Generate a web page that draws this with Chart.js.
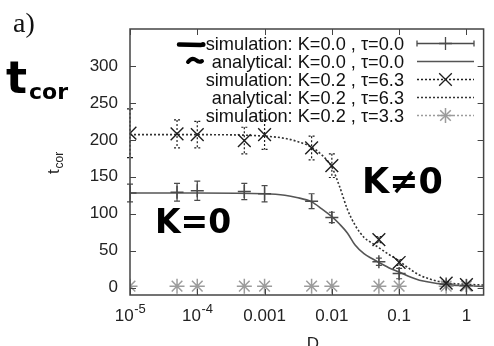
<!DOCTYPE html>
<html>
<head>
<meta charset="utf-8">
<script src="https://cdn.jsdelivr.net/npm/chart.js@4/dist/chart.umd.min.js"></script>
<style>
html,body{margin:0;padding:0;background:#fff;}
#wrap{position:relative;width:494px;height:346px;}
</style>
</head>
<body>
<div id="wrap"><canvas id="c" width="494" height="346"></canvas></div>
<script>
// ---- data ----
const simD = [1e-5, 5e-5, 1e-4, 5e-4, 1e-3, 5e-3, 1e-2, 5e-2, 0.1, 0.5, 1];
const simK0 = [128, 129, 131, 130, 127, 117, 95, 35, 19, 5, 3];
const simK0Err = [12, 12, 13, 11, 11, 10, 7, 5, 7, 2, 2];
const simK02 = [209, 208, 207, 199, 207, 189, 165, 65, 34, 6, 4];
const simK02Err = [33, 19, 18, 18, 20, 16, 16, 4, 4, 2, 2];
const simK02b = [2, 2, 2, 2, 2, 2, 2, 2, 2, 2, 2];

const curveD = [1e-5, 1e-4, 1e-3, 2e-3, 3e-3, 5e-3, 7e-3, 1e-2, 1.3e-2, 1.7e-2, 2.2e-2, 3e-2, 4e-2, 5e-2, 7e-2, 0.1, 0.15, 0.2, 0.3, 0.5, 1, 1.8];
const anaK0 = [128, 128, 127, 125, 122, 116, 107, 96, 86, 74, 58, 46, 39, 34, 27, 21, 14, 10, 7, 4, 2.5, 1.5];
const anaK02 = [207, 207, 205, 202, 198, 190, 180, 163, 137, 106, 85, 68, 60, 54, 45, 36, 24, 17, 11, 6.5, 4.5, 3.5];

const xTickValues = [1e-5, 1e-4, 1e-3, 1e-2, 0.1, 1];
const xTickLabels = ['10^-5', '10^-4', '0.001', '0.01', '0.1', '1'];
const yTickValues = [0, 50, 100, 150, 200, 250, 300];
const seriesLabels = [
  'simulation: K=0.0 , \u03C4=0.0',
  'analytical: K=0.0 , \u03C4=0.0',
  'simulation: K=0.2 , \u03C4=6.3',
  'analytical: K=0.2 , \u03C4=6.3',
  'simulation: K=0.2 , \u03C4=3.3'
];

const pts = (xs, ys) => xs.map((x, i) => ({x: x, y: ys[i]}));
const FONT = '"Liberation Sans", Arial, "DejaVu Sans", sans-serif';

const C_K0 = '#4a4a4a', C_K0L = '#555555', C_X = '#1e1e1e', C_DOT = '#333333', C_STAR = '#9c9c9c';

const datasets = [
  {label: seriesLabels[0], data: pts(simD, simK0), errors: simK0Err, errDash: [],
   showLine: false, pointStyle: 'cross', pointRadius: 6.5, borderColor: C_K0, backgroundColor: C_K0, pointBorderWidth: 1.5, order: 2},
  {label: seriesLabels[1], data: pts(curveD, anaK0), showLine: true, pointRadius: 0,
   borderColor: C_K0L, borderWidth: 1.6, cubicInterpolationMode: 'monotone', order: 4},
  {label: seriesLabels[2], data: pts(simD, simK02), errors: simK02Err, errDash: [2, 2],
   showLine: false, pointStyle: 'crossRot', pointRadius: 9, borderColor: C_X, backgroundColor: C_X, pointBorderWidth: 1.4, order: 1},
  {label: seriesLabels[3], data: pts(curveD, anaK02), showLine: true, pointRadius: 0,
   borderColor: C_DOT, borderWidth: 1.6, borderDash: [2, 2], cubicInterpolationMode: 'monotone', order: 5},
  {label: seriesLabels[4], data: pts(simD, simK02b), showLine: false, pointStyle: 'star', pointRadius: 7.5,
   borderColor: C_STAR, backgroundColor: C_STAR, pointBorderWidth: 1.5, order: 3}
];

function drawCross(ctx, x, y, r) { ctx.beginPath(); ctx.moveTo(x - r, y); ctx.lineTo(x + r, y); ctx.moveTo(x, y - r); ctx.lineTo(x, y + r); ctx.stroke(); }
function drawX(ctx, x, y, r) { ctx.beginPath(); ctx.moveTo(x - r, y - r); ctx.lineTo(x + r, y + r); ctx.moveTo(x - r, y + r); ctx.lineTo(x + r, y - r); ctx.stroke(); }

const decor = {
  id: 'decor',
  beforeDatasetsDraw(chart) {
    const ctx = chart.ctx, xs = chart.scales.x, ys = chart.scales.y;
    ctx.save();
    chart.data.datasets.forEach(ds => {
      if (!ds.errors) return;
      ctx.strokeStyle = ds.borderColor; ctx.lineWidth = 1.2;
      ctx.setLineDash(ds.errDash);
      ds.data.forEach((p, i) => {
        const e = ds.errors[i];
        const px = xs.getPixelForValue(p.x);
        const y1 = ys.getPixelForValue(p.y + e), y2 = ys.getPixelForValue(p.y - e);
        ctx.beginPath(); ctx.moveTo(px, y1); ctx.lineTo(px, y2);
        ctx.moveTo(px - 3, y1); ctx.lineTo(px + 3, y1);
        ctx.moveTo(px - 3, y2); ctx.lineTo(px + 3, y2);
        ctx.stroke();
      });
    });
    ctx.restore();
  },
  afterDraw(chart) {
    const ctx = chart.ctx, a = chart.chartArea, xs = chart.scales.x, ys = chart.scales.y;
    ctx.save();
    // frame
    ctx.strokeStyle = '#444'; ctx.lineWidth = 1.5; ctx.setLineDash([]);
    ctx.strokeRect(a.left, a.top, a.right - a.left, a.bottom - a.top);
    ctx.lineWidth = 1;
    ctx.beginPath();
    yTickValues.forEach(v => { const py = Math.round(ys.getPixelForValue(v)) + 0.5;
      ctx.moveTo(a.left, py); ctx.lineTo(a.left + 6, py); ctx.moveTo(a.right, py); ctx.lineTo(a.right - 6, py); });
    xTickValues.forEach(v => { const px = Math.round(xs.getPixelForValue(v)) + 0.5;
      ctx.moveTo(px, a.bottom); ctx.lineTo(px, a.bottom - 6); ctx.moveTo(px, a.top); ctx.lineTo(px, a.top + 6); });
    ctx.stroke();

    // x tick labels (with real superscripts)
    ctx.fillStyle = '#222'; ctx.textBaseline = 'alphabetic'; ctx.textAlign = 'left';
    xTickValues.forEach((v, i) => {
      const px = xs.getPixelForValue(v);
      const parts = xTickLabels[i].split('^');
      ctx.font = '17px ' + FONT;
      const w1 = ctx.measureText(parts[0]).width;
      let w2 = 0;
      if (parts[1]) { ctx.font = '13px ' + FONT; w2 = ctx.measureText(parts[1]).width; }
      const x0 = px - (w1 + w2) / 2;
      ctx.font = '17px ' + FONT; ctx.fillText(parts[0], x0, 320.5);
      if (parts[1]) { ctx.font = '13px ' + FONT; ctx.fillText(parts[1], x0 + w1 + 0.5, 312.5); }
    });

    // legend
    const rows = [43.5, 61.5, 79.5, 97.5, 115.5];
    const tx = 404, l1 = 417, l2 = 474, mid = 445.5;
    ctx.font = '18.2px ' + FONT; ctx.fillStyle = '#111'; ctx.textAlign = 'right'; ctx.textBaseline = 'middle';
    rows.forEach((ry, i) => ctx.fillText(seriesLabels[i], tx, ry + 1));
    // row 1
    ctx.strokeStyle = C_K0; ctx.lineWidth = 1.3;
    ctx.beginPath(); ctx.moveTo(l1, rows[0]); ctx.lineTo(l2, rows[0]);
    ctx.moveTo(l1, rows[0] - 3); ctx.lineTo(l1, rows[0] + 3); ctx.moveTo(l2, rows[0] - 3); ctx.lineTo(l2, rows[0] + 3); ctx.stroke();
    drawCross(ctx, mid, rows[0], 6.5);
    // row 2
    ctx.strokeStyle = C_K0L; ctx.lineWidth = 1.6;
    ctx.beginPath(); ctx.moveTo(l1, rows[1]); ctx.lineTo(l2, rows[1]); ctx.stroke();
    // row 3
    ctx.strokeStyle = C_X; ctx.lineWidth = 1.3; ctx.setLineDash([2, 2]);
    ctx.beginPath(); ctx.moveTo(l1, rows[2]); ctx.lineTo(l2, rows[2]); ctx.stroke();
    ctx.setLineDash([]); drawX(ctx, mid, rows[2], 6.3);
    // row 4
    ctx.strokeStyle = C_DOT; ctx.lineWidth = 1.5; ctx.setLineDash([2, 2]);
    ctx.beginPath(); ctx.moveTo(l1, rows[3]); ctx.lineTo(l2, rows[3]); ctx.stroke();
    // row 5
    ctx.strokeStyle = C_STAR; ctx.lineWidth = 1.3;
    ctx.beginPath(); ctx.moveTo(l1, rows[4]); ctx.lineTo(l2, rows[4]); ctx.stroke();
    ctx.setLineDash([]); ctx.lineWidth = 1.5;
    drawCross(ctx, mid, rows[4], 7.5); drawX(ctx, mid, rows[4], 5.3);

    // axis titles
    ctx.fillStyle = '#222'; ctx.textAlign = 'center'; ctx.textBaseline = 'alphabetic';
    ctx.font = '17px ' + FONT;
    ctx.fillText('D', 313, 348.5);
    ctx.save();
    ctx.translate(59, 174); ctx.rotate(-Math.PI / 2);
    ctx.textAlign = 'left';
    ctx.font = '17px ' + FONT; ctx.fillText('t', 0, 0);
    ctx.font = '12px ' + FONT; ctx.fillText('cor', 5.5, 4);
    ctx.restore();

    // panel label
    ctx.font = '28px "Liberation Serif", "DejaVu Serif", serif'; ctx.textAlign = 'left'; ctx.fillStyle = '#111';
    ctx.fillText('a)', 13, 32);

    // handwritten annotations
    ctx.fillStyle = '#000';
    ctx.font = 'bold 44px "DejaVu Sans", sans-serif';
    ctx.fillText('t', 6, 93);
    ctx.font = 'bold 22px "DejaVu Sans", sans-serif';
    ctx.fillText('cor', 29, 99);
    ctx.font = 'bold 33px "DejaVu Sans", sans-serif';
    ctx.fillText('K=0', 155, 233);
    ctx.font = 'bold 35px "DejaVu Sans", sans-serif';
    ctx.fillText('K\u22600', 362, 193);
    // scribbles in legend
    ctx.strokeStyle = '#000'; ctx.lineCap = 'round'; ctx.lineWidth = 4.5;
    ctx.beginPath(); ctx.moveTo(179, 44.5); ctx.lineTo(201, 45); ctx.stroke();
    ctx.beginPath(); ctx.arc(203, 44.5, 2.5, 0, Math.PI * 2); ctx.fill();
    ctx.lineWidth = 4;
    ctx.beginPath(); ctx.moveTo(188, 62); ctx.quadraticCurveTo(192, 57, 196, 60); ctx.quadraticCurveTo(199, 63, 202, 61); ctx.stroke();
    ctx.restore();
  }
};

new Chart(document.getElementById('c'), {
  type: 'scatter',
  data: {datasets: datasets},
  options: {
    responsive: false, animation: false, devicePixelRatio: 1,
    layout: {padding: {left: 0, right: 2, top: 29, bottom: 0}},
    plugins: {legend: {display: false}, tooltip: {enabled: false}},
    scales: {
      x: {
        type: 'logarithmic', min: 1e-5, max: 1.8,
        grid: {display: false, drawTicks: false}, border: {display: false},
        afterBuildTicks: s => { s.ticks = xTickValues.map(v => ({value: v})); },
        afterFit: s => { s.height = 51; },
        ticks: {display: false}
      },
      y: {
        min: -10, max: 350,
        grid: {display: false, drawTicks: false}, border: {display: false},
        afterBuildTicks: s => { s.ticks = yTickValues.map(v => ({value: v})); },
        afterFit: s => { s.width = 130; },
        ticks: {padding: 12, color: '#222', font: {size: 17, family: FONT}}
      }
    }
  },
  plugins: [decor]
});
</script>
</body>
</html>
